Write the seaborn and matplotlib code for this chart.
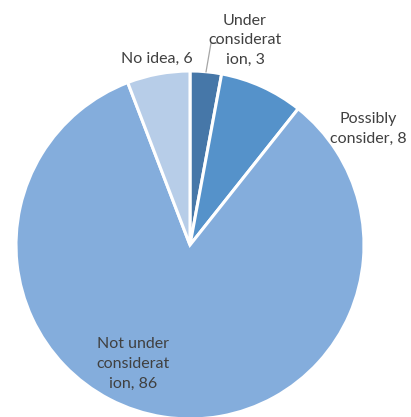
import matplotlib
matplotlib.use("Agg")
import matplotlib.pyplot as plt
import seaborn as sns

sns.set_theme(style="white")
plt.rcParams['font.family'] = ['Lato', 'DejaVu Sans']

categories = ["Under consideration", "Possibly consider", "Not under consideration", "No idea"]
values = [3, 8, 86, 6]
label_texts = ["Under\nconsiderat\nion, 3", "Possibly\nconsider, 8", "Not under\nconsiderat\nion, 86", "No idea, 6"]
colors = ["#4677a8", "#5592ca", "#84addc", "#b7cde8"]

W, H = 411, 417
fig = plt.figure(figsize=(W / 100, H / 100), dpi=100)
ax = fig.add_axes([0, 0, 1, 1])

cx, cy, r = 190, H - 245, 174
ax.pie(values, colors=colors, startangle=90, counterclock=False,
       center=(cx, cy), radius=r, frame=True,
       wedgeprops=dict(edgecolor="white", linewidth=2.2))
ax.set_xlim(0, W)
ax.set_ylim(0, H)
ax.set_aspect("equal")
ax.axis("off")

pos = [(245, H - 40), (368, H - 129), (133, H - 364), (157, H - 59)]
for (x, y), t in zip(pos, label_texts):
    ax.text(x, y, t, ha="center", va="center", fontsize=11.5, color="#404040",
            linespacing=1.5)

# leader line for the small slice
ax.plot([219, 211, 206], [H - 43, H - 43, H - 72], color="#a6a6a6", lw=0.9)

fig.savefig("out.png", dpi=100)
